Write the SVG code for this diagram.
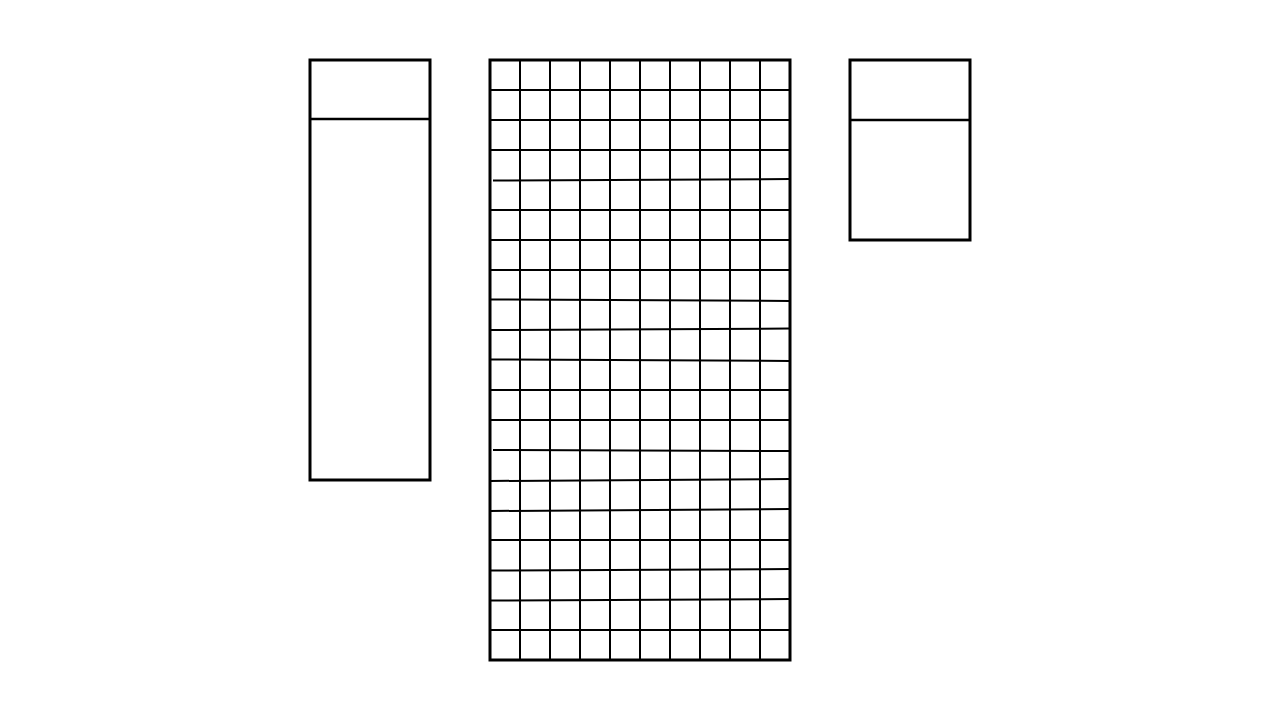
<svg xmlns="http://www.w3.org/2000/svg" width="1280" height="720" viewBox="0 0 1280 720">
<style>
.box{fill:#fff;stroke:#000;stroke-width:3}
.ln{stroke:#000;stroke-width:2.5;fill:none}
.gl{stroke:#000;stroke-width:2;fill:none}
</style>
<rect width="1280" height="720" fill="#fff"/>
<g id="left-box">
<rect class="box" x="310" y="60" width="120" height="420"/>
<line class="ln" x1="310" y1="119" x2="430" y2="119"/>
</g>
<g id="grid">
<rect class="box" x="490" y="60" width="300" height="600"/>
<g class="gl">
<line x1="520" y1="60" x2="520" y2="660"/>
<line x1="550" y1="60" x2="550" y2="660"/>
<line x1="580" y1="60" x2="580" y2="660"/>
<line x1="610" y1="60" x2="610" y2="660"/>
<line x1="640" y1="60" x2="640" y2="660"/>
<line x1="670" y1="60" x2="670" y2="660"/>
<line x1="700" y1="60" x2="700" y2="660"/>
<line x1="730" y1="60" x2="730" y2="660"/>
<line x1="760" y1="60" x2="760" y2="660"/>
<line x1="490" y1="90" x2="790" y2="90"/>
<line x1="490" y1="120" x2="790" y2="120"/>
<line x1="490" y1="150" x2="790" y2="150"/>
<line x1="493" y1="180.5" x2="790" y2="179"/>
<line x1="490" y1="210" x2="790" y2="210"/>
<line x1="490" y1="240" x2="790" y2="240"/>
<line x1="490" y1="270" x2="790" y2="270"/>
<line x1="490" y1="299.5" x2="790" y2="301"/>
<line x1="490" y1="330" x2="790" y2="328.5"/>
<line x1="490" y1="359.5" x2="790" y2="361"/>
<line x1="490" y1="390" x2="790" y2="390"/>
<line x1="490" y1="420" x2="790" y2="420"/>
<line x1="493" y1="450" x2="790" y2="451"/>
<line x1="490" y1="481" x2="790" y2="479"/>
<line x1="490" y1="511" x2="790" y2="509"/>
<line x1="490" y1="540" x2="790" y2="540"/>
<line x1="490" y1="570.5" x2="790" y2="569"/>
<line x1="490" y1="600.5" x2="790" y2="599"/>
<line x1="490" y1="630" x2="790" y2="630"/>
</g>
</g>
<g id="right-box">
<rect class="box" x="850" y="60" width="120" height="180"/>
<line class="ln" x1="850" y1="120" x2="970" y2="120"/>
</g>
<g id="connectors"></g>
</svg>
